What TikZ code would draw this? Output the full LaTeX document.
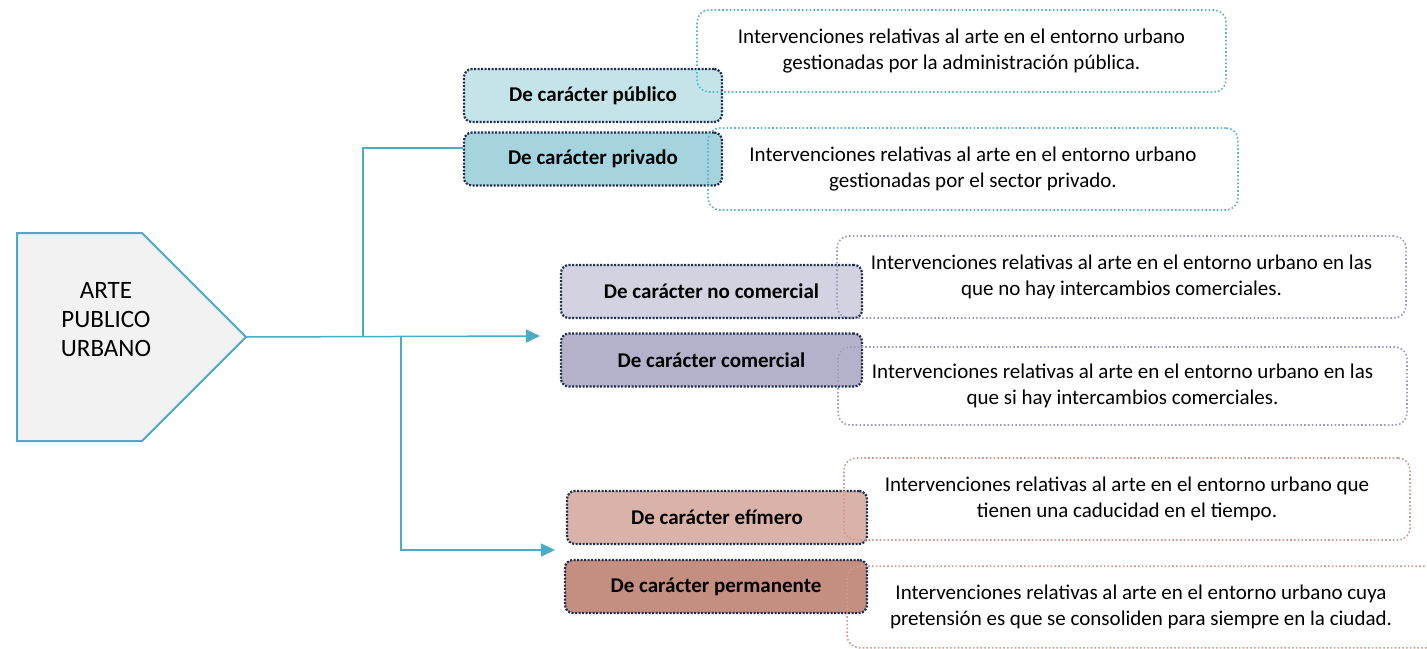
\documentclass[tikz,border=0pt]{standalone}
\usepackage{fontspec}
\setmainfont{Carlito}
\usetikzlibrary{arrows.meta}
\definecolor{azul}{HTML}{4BACC6}
\definecolor{marino}{HTML}{1F2D4E}
\definecolor{grisclaro}{HTML}{F2F2F2}
\definecolor{publico}{HTML}{C5E4E9}
\definecolor{privado}{HTML}{A5D4DE}
\definecolor{nocomercial}{HTML}{D2D2E0}
\definecolor{comercial}{HTML}{B4B2CA}
\definecolor{efimero}{HTML}{D9B3AA}
\definecolor{permanente}{HTML}{C48E80}
\definecolor{bordeazul}{HTML}{5BB6CC}
\definecolor{bordelila}{HTML}{9D9CC2}
\definecolor{borderojo}{HTML}{D29A8C}
\begin{document}
\begin{tikzpicture}[x=1pt,y=-1pt,
            conector/.style={draw=azul,line width=1.5pt},
            flecha/.style={conector,-{Triangle[length=14pt,width=13pt]}},
            categoria/.style={draw=marino,line width=2.2pt,dash pattern=on 2pt off 1.5pt,
                rounded corners=8pt,minimum width=258pt,minimum height=53pt,inner sep=0pt,
                font=\fontsize{21}{26}\selectfont\bfseries},
            descripcion/.style={line width=1.6pt,dash pattern=on 1.6pt off 2.2pt,
                rounded corners=12pt,minimum height=82pt,inner sep=0pt,align=center,
                font=\fontsize{21}{26}\selectfont}]
            \useasboundingbox (0,0) rectangle (1427,648);

            \coordinate (tip) at (246,337);
            \draw[draw=azul,fill=grisclaro,line width=2pt] (17,233) -- (142,233) -- (tip) -- (142,441) -- (17,441) -- cycle;
            \node[align=center,font=\fontsize{25}{29}\selectfont] (arte) at (106,320) {ARTE\\PUBLICO\\URBANO};

            \node[categoria,fill=publico] (pub) at (593,95.5) {De carácter público};
            \node[categoria,fill=privado] (priv) at (593,159) {De carácter privado};
            \node[categoria,fill=nocomercial,minimum width=301pt] (nocom) at (711.5,291.5) {De carácter no comercial};
            \node[categoria,fill=comercial,minimum width=301pt] (com) at (711.5,360) {De carácter comercial};
            \node[categoria,fill=efimero,minimum width=300pt] (efi) at (717,517.5) {De carácter efímero};
            \node[categoria,fill=permanente,minimum width=302pt] (perm) at (716,586.5) {De carácter permanente};

            \node[descripcion,draw=bordeazul,minimum width=529pt] (dpub) at (961.5,51)
                {Intervenciones relativas al arte en el entorno urbano\\gestionadas por la administración pública.};
            \node[descripcion,draw=bordeazul,minimum width=530pt] (dpriv) at (973,169)
                {Intervenciones relativas al arte en el entorno urbano\\gestionadas por el sector privado.};
            \node[descripcion,draw=bordelila,minimum width=569pt] (dnocom) at (1121.5,277)
                {Intervenciones relativas al arte en el entorno urbano en las\\que no hay intercambios comerciales.};
            \node[descripcion,draw=bordelila,minimum width=569pt,minimum height=78pt] (dcom) at (1122.5,386)
                {Intervenciones relativas al arte en el entorno urbano en las\\que si hay intercambios comerciales.};
            \node[descripcion,draw=borderojo,minimum width=566pt] (defi) at (1127,499)
                {Intervenciones relativas al arte en el entorno urbano que\\tienen una caducidad en el tiempo.};
            \node[descripcion,minimum width=586pt,minimum height=80pt] (dperm) at (1141,607)
                {Intervenciones relativas al arte en el entorno urbano cuya\\pretensión es que se consoliden para siempre en la ciudad.};
            \draw[descripcion,draw=borderojo] (dperm.north west) rectangle ([xshift=40pt]dperm.south east);

            \coordinate (j1) at (363,337);
            \coordinate (j2) at (401,337);
            \coordinate (fin1) at (540,336);
            \coordinate (fin2) at (555,550);

            \draw[flecha] (tip) -- (fin1);
            \draw[conector] (j1) |- ([yshift=11pt]priv.west);
            \draw[flecha] (j2) |- (fin2);
\end{tikzpicture}
\end{document}
